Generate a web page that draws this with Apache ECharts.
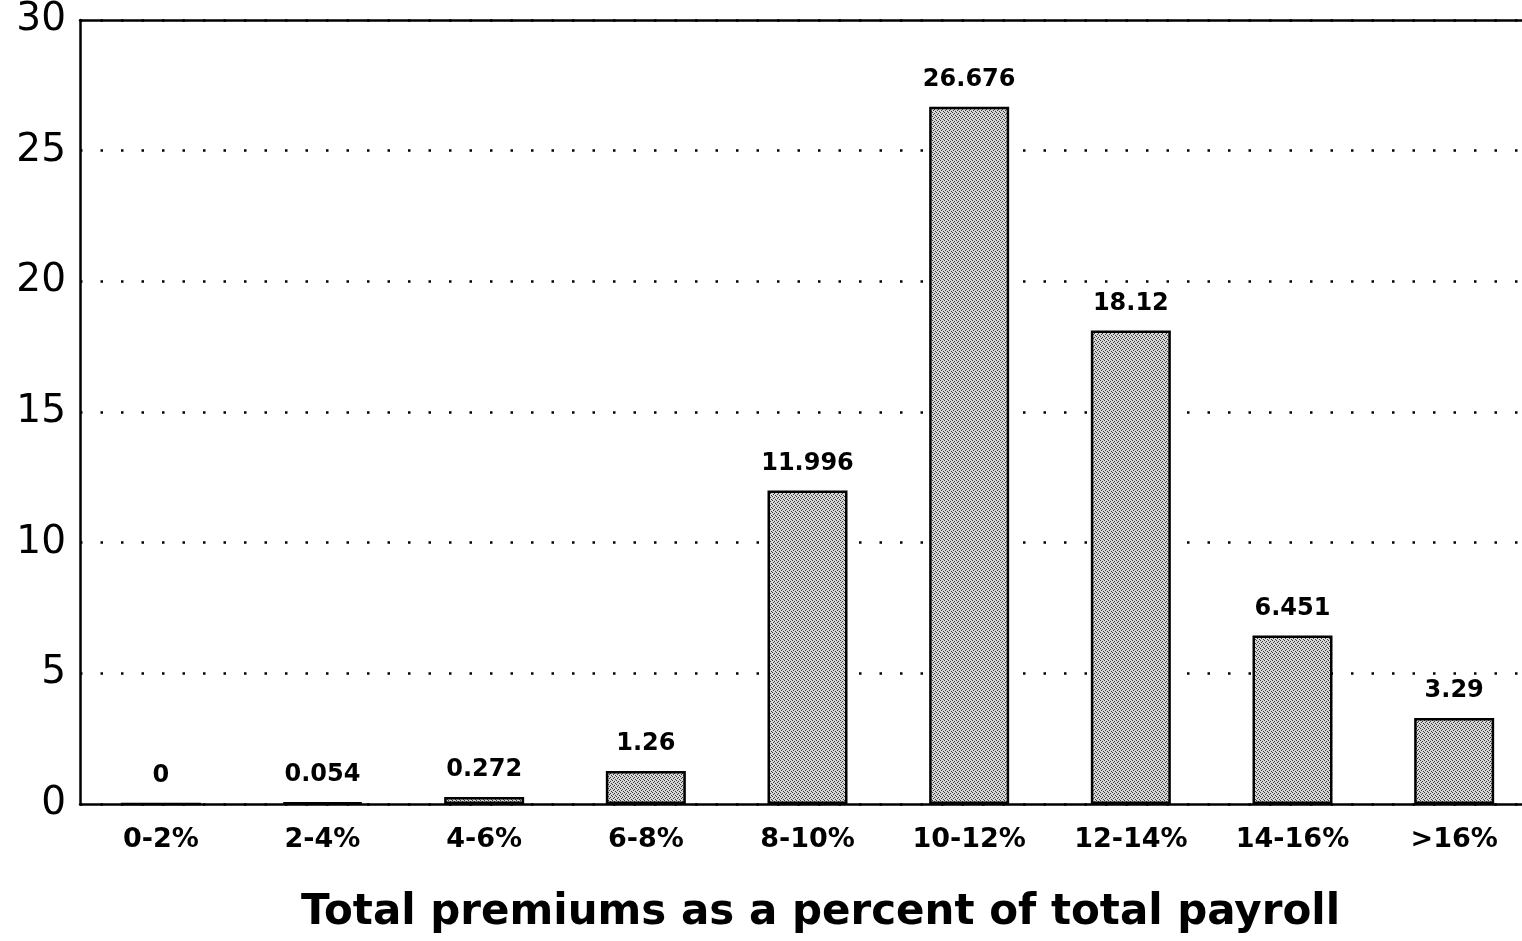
<!DOCTYPE html>
<html>
<head>
<meta charset="utf-8">
<script src="https://cdn.jsdelivr.net/npm/echarts@6/dist/echarts.min.js"></script>
<style>
  html, body { margin: 0; padding: 0; background: #fff; overflow: hidden; }
  #chart { width: 1540px; height: 941px; }
</style>
</head>
<body>
<div id="chart"></div>
<script>
// Share of employers by total premiums as a percent of total payroll
const categories = ['0-2%', '2-4%', '4-6%', '6-8%', '8-10%', '10-12%', '12-14%', '14-16%', '>16%'];
const shares = [0, 0.054, 0.272, 1.26, 11.996, 26.676, 18.12, 6.451, 3.29];
const yTicks = { min: 0, max: 30, interval: 5 };
const axisTitle = 'Total premiums as a percent of total payroll';

// Stippled grey fill for the bars
function stipple() {
  const c = document.createElement('canvas');
  c.width = 4; c.height = 4;
  const g = c.getContext('2d');
  g.fillStyle = '#d6d6d6';
  g.fillRect(0, 0, 4, 4);
  g.fillStyle = '#3a3a3a';
  [[0, 0], [2, 1], [1, 2], [3, 3]].forEach(([x, y]) => g.fillRect(x, y, 1, 1));
  return c;
}

const chart = echarts.init(document.getElementById('chart'), null, { renderer: 'canvas' });
const font = 'DejaVu Sans';

chart.setOption({
  backgroundColor: '#fff',
  animation: false,
  // plot runs past the right edge of the page, leaving the frame open there
  grid: { left: 80, top: 20, width: 1455, bottom: 137, containLabel: false },
  xAxis: [{
    type: 'category',
    data: categories,
    boundaryGap: true,
    axisLine: { show: true, lineStyle: { color: '#000', width: 2.5 } },
    axisTick: { show: false },
    axisLabel: { color: '#000', fontFamily: font, fontWeight: 'bold', fontSize: 27, margin: 22 },
    name: axisTitle,
    nameLocation: 'middle',
    nameGap: 88,
    nameTextStyle: { color: '#000', fontFamily: font, fontWeight: 'bold', fontSize: 42, padding: [0, 0, 0, 26] }
  }, {
    type: 'category',
    data: categories,
    position: 'top',
    axisLine: { show: true, lineStyle: { color: '#000', width: 2.5 } },
    axisTick: { show: false },
    axisLabel: { show: false }
  }],
  yAxis: {
    type: 'value',
    min: yTicks.min,
    max: yTicks.max,
    interval: yTicks.interval,
    axisLine: { show: true, lineStyle: { color: '#000', width: 2.5 } },
    axisTick: { show: false },
    axisLabel: { color: '#000', fontFamily: font, fontSize: 39, margin: 14 },
    splitLine: { show: true, lineStyle: { color: '#000', width: 2.5, type: [2.5, 18] } }
  },
  series: [{
    type: 'bar',
    data: shares,
    barWidth: 80,
    itemStyle: {
      color: { image: stipple(), repeat: 'repeat' },
      borderColor: '#000',
      borderWidth: 2.5
    },
    label: {
      show: true,
      position: 'top',
      distance: 15,
      color: '#000',
      fontFamily: font,
      fontWeight: 'bold',
      fontSize: 24,
      formatter: p => String(shares[p.dataIndex])
    }
  }]
});
</script>
</body>
</html>
